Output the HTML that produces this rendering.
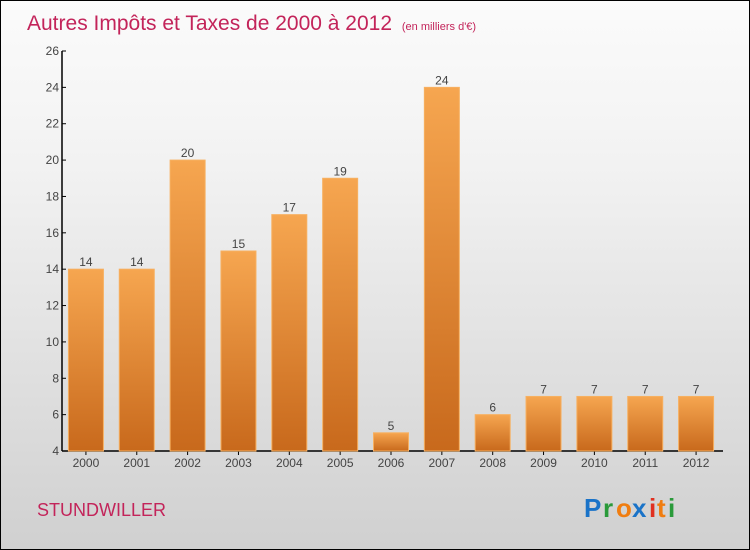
<!DOCTYPE html>
<html><head><meta charset="utf-8"><style>
body{margin:0}
#c{position:relative;width:748px;height:548px;border:1px solid #000;background:linear-gradient(#fbfbfb,#f2f2f2 30%,#d0d0d0);overflow:hidden;font-family:"Liberation Sans",sans-serif}
</style></head><body>
<div id="c">
<svg id="s" width="748" height="548" style="position:absolute;left:0;top:0">
<defs><linearGradient id="g" x1="0" y1="0" x2="0" y2="1"><stop offset="0" stop-color="#f6a650"/><stop offset="1" stop-color="#c8691c"/></linearGradient></defs>
<text x="26" y="29" font-size="21" fill="#c3245a">Autres Impôts et Taxes de 2000 à 2012 <tspan font-size="11" dx="4">(en milliers d'€)</tspan></text>
<text x="36" y="515" font-size="18" fill="#c3245a">STUNDWILLER</text>
<g font-size="26" font-family="'Liberation Sans',sans-serif" font-weight="bold">
<text x="583" y="516" fill="#1a73c8">P</text><text x="602" y="516" fill="#2a9a3a">r</text><text x="615" y="516" fill="#f07d10">o</text><text x="631" y="516" fill="#1a73c8">x</text><text x="648" y="516" fill="#e03020">i</text><text x="656" y="516" fill="#f07d10">t</text><text x="667" y="516" fill="#2a9a3a">i</text></g>
<g id="ax"></g><g id="bars"></g>
</svg>
</div>
<script>
const years=["2000","2001","2002","2003","2004","2005","2006","2007","2008","2009","2010","2011","2012"];
const values=[14,14,20,15,17,19,5,24,6,7,7,7,7];
const ticks=[4,6,8,10,12,14,16,18,20,22,24,26];
const ns="http://www.w3.org/2000/svg";
const X0=61,X1=722,Y0=450,Y1=50,ymin=4,ymax=26;
const y=v=>Y0-(v-ymin)/(ymax-ymin)*(Y0-Y1);
const bw=(X1-X0)/years.length;
const xc=i=>X0-1.5+bw*(i+0.5);
function mk(t,a,p){const e=document.createElementNS(ns,t);for(const k in a)e.setAttribute(k,a[k]);p.appendChild(e);return e;}
const ax=document.getElementById('ax'),bars=document.getElementById('bars');
let l=mk('line',{x1:X0,y1:Y1,x2:X0,y2:Y0,stroke:'#000','stroke-width':1.5},ax);


l=mk('line',{x1:X0,y1:Y0,x2:X1,y2:Y0,stroke:'#000','stroke-width':1.5},ax);


ticks.forEach(t=>{
 mk('line',{x1:X0,y1:y(t),x2:X0+4,y2:y(t),stroke:'#000'},ax);
 const tx=mk('text',{x:X0-3,y:y(t)+4,'text-anchor':'end','font-size':12,fill:'#444'},ax);
 tx.textContent=t;
 
 
});
years.forEach((yr,i)=>{
 const v=values[i],x=xc(i);
 const r=mk('rect',{x:x-17.5,y:y(v),width:35,height:Y0-y(v),fill:'url(#g)',stroke:'#f7b060','stroke-width':1},bars);
 
 
 const vt=mk('text',{x:x,y:y(v)-3,'text-anchor':'middle','font-size':12,fill:'#444'},bars);
 vt.textContent=v;
 
 
 mk('line',{x1:x,y1:Y0,x2:x,y2:Y0+4,stroke:'#000'},ax);
 const xt=mk('text',{x:x,y:Y0+16,'text-anchor':'middle','font-size':12,fill:'#444'},ax);
 xt.textContent=yr;
 
 
});
</script>
</body></html>
